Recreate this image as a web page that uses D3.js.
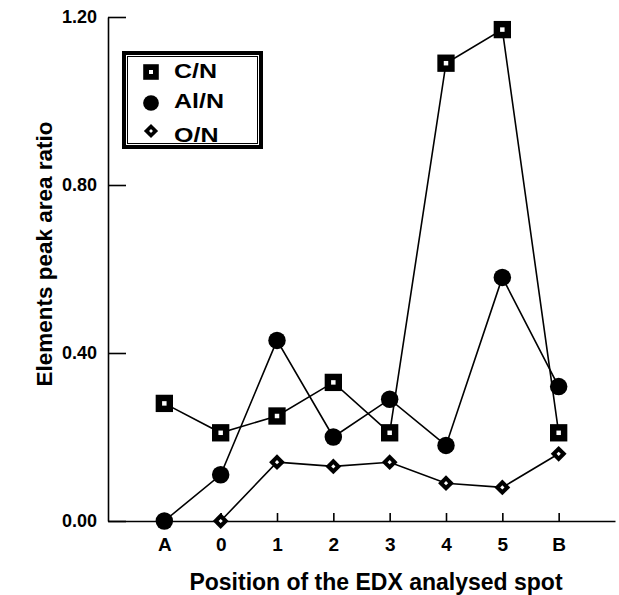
<!DOCTYPE html>
<html><head><meta charset="utf-8">
<script src="https://cdn.jsdelivr.net/npm/d3@7"></script>
<style>
html,body{margin:0;padding:0;background:#fff;}
svg{display:block;}
text{font-family:"Liberation Sans",Arial,sans-serif;font-weight:bold;fill:#000;}
</style></head>
<body>
<svg id="chart" width="619" height="595"></svg>
<script>
const categories = ["A","0","1","2","3","4","5","B"];
const cnValues = [0.28,0.21,0.25,0.33,0.21,1.09,1.17,0.21];
const alnValues = [0.00,0.11,0.43,0.20,0.29,0.18,0.58,0.32];
const onValues = [null,0.00,0.14,0.13,0.14,0.09,0.08,0.16];
const yTicks = [0,0.4,0.8,1.2];
const seriesNames = ["C/N","Al/N","O/N"];
const xTitle = "Position of the EDX analysed spot";
const yTitle = "Elements peak area ratio";

const svg = d3.select("#chart");
const x = d3.scaleLinear().domain([-1, 8]).range([108, 615]);
const y = d3.scaleLinear().domain([0, 1.2]).range([521, 17]);

// axes
const yAxis = d3.axisLeft(y).tickValues(yTicks).tickFormat(d3.format(".2f"))
  .tickSizeInner(-18).tickSizeOuter(0).tickPadding(11);
const gy = svg.append("g").attr("transform","translate(108,0)").call(yAxis);
gy.selectAll("text").style("font-size","18px").style("font-family","'Liberation Sans',Arial,sans-serif").style("font-weight","bold");
gy.selectAll("line,path").attr("stroke","#000").attr("stroke-width",1.6);

const xAxis = d3.axisBottom(x).tickValues(d3.range(categories.length))
  .tickFormat(i => categories[i]).tickSizeInner(-8).tickSizeOuter(0).tickPadding(17);
const gx = svg.append("g").attr("transform","translate(0,521)").call(xAxis);
gx.selectAll("text").style("font-size","19px").style("font-family","'Liberation Sans',Arial,sans-serif").style("font-weight","bold");
gx.selectAll("line,path").attr("stroke","#000").attr("stroke-width",1.6);

// titles
svg.append("text").attr("x",376).attr("y",590).attr("text-anchor","middle")
  .style("font-size","23px").text(xTitle);
svg.append("text").attr("transform","translate(52,254) rotate(-90)").attr("text-anchor","middle")
  .style("font-size","22.5px").text(yTitle);

// lines
const data = [cnValues, alnValues, onValues];
const line = d3.line().defined(d => d.v !== null).x(d => x(d.i)).y(d => y(d.v));
data.forEach(vals => {
  svg.append("path").datum(vals.map((v,i)=>({i,v})))
    .attr("d", line).attr("fill","none").attr("stroke","#000").attr("stroke-width",1.6);
});

// markers
function drawMarker(g, type, scale) {
  const s = scale || 1;
  if (type === 0) {
    g.append("path").attr("d", d3.symbol(d3.symbolSquare, 300*s*s)()).attr("fill","#000");
    g.append("path").attr("d", d3.symbol(d3.symbolSquare, 20*s*s)()).attr("fill","#fff");
  } else if (type === 1) {
    g.append("path").attr("d", d3.symbol(d3.symbolCircle, 240*s*s)()).attr("fill","#000");
  } else {
    g.append("path").attr("d", d3.symbol(d3.symbolSquare, 125*s*s)()).attr("transform","rotate(45)").attr("fill","#000");
    g.append("path").attr("d", d3.symbol(d3.symbolSquare, 9*s*s)()).attr("transform","rotate(45)").attr("fill","#fff");
  }
}
data.forEach((vals, si) => {
  vals.forEach((v,i) => {
    if (v === null) return;
    const g = svg.append("g").attr("transform",`translate(${x(i)},${y(v)})`);
    drawMarker(g, si, 1);
  });
});

// legend
const lg = svg.append("g");
lg.append("rect").attr("x",124).attr("y",53).attr("width",137).attr("height",94)
  .attr("fill","#fff").attr("stroke","#000").attr("stroke-width",4);
lg.append("rect").attr("x",127.5).attr("y",56.5).attr("width",130).attr("height",87)
  .attr("fill","none").attr("stroke","#000").attr("stroke-width",1);
const legendMarkerY = [72, 103, 131];
const legendTextY = [78, 108, 142];
seriesNames.forEach((name, i) => {
  const g = lg.append("g").attr("transform",`translate(151,${legendMarkerY[i]})`);
  drawMarker(g, i, 0.9);
  lg.append("text").attr("transform",`translate(174,${legendTextY[i]}) scale(1.25,1)`)
    .style("font-size","20px").text(name);
});
</script>
</body></html>
